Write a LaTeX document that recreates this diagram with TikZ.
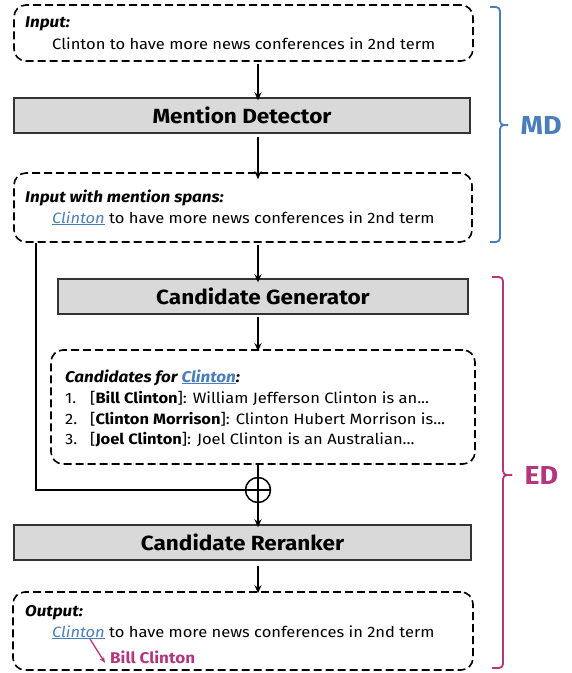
\documentclass[tikz,border=0pt]{standalone}
\usepackage{fontspec}
\setmainfont{Fira Sans}[FakeStretch=1.1]
\usepackage{xcolor}
\usetikzlibrary{arrows.meta,positioning}
\definecolor{mdblue}{HTML}{4A7EBB}
\definecolor{edpink}{HTML}{B3367F}
\definecolor{stagegray}{HTML}{D9D9D9}
\newcommand{\ment}{{\color{mdblue}\itshape\underline{Clinton}}}
\newcommand{\sent}{to have more news conferences in 2nd term}

\begin{document}
\begin{tikzpicture}[x=1pt,y=-1pt,font=\fontsize{15}{18}\selectfont,
  iobox/.style={draw,line width=1.6pt,dash pattern=on 8pt off 4pt,rounded corners=12pt,inner sep=0pt},
  stage/.style={draw=black!80,fill=stagegray,line width=1.4pt,inner sep=0pt,font=\fontsize{20.5}{24}\selectfont\bfseries},
  flow/.style={-{Stealth[length=8pt,width=7pt]},line width=2pt},
  txt/.style={anchor=base west,inner sep=0pt},
  head/.style={txt,font=\fontsize{15.5}{18}\selectfont\bfseries\itshape},
  bracket/.style={line width=1.8pt,rounded corners=4pt},
  tag/.style={anchor=west,font=\fontsize{26}{30}\selectfont\bfseries}]
\useasboundingbox (0,0) rectangle (572,673);
\coordinate (axis) at (258,0);

% mention detection
\node[iobox,minimum width=459pt,minimum height=56pt] (input) at (243.5,33) {};
\node[head] (inlbl) at (25,27) {Input:};
\node[txt] (intxt) at (52,49) {Clinton \sent};
\node[stage,minimum width=456pt,minimum height=35pt] (det) at (242,115.5) {Mention Detector};
\node[iobox,minimum width=458pt,minimum height=69pt] (spans) at (243,207.5) {};
\node[head] (spanlbl) at (25,202) {Input with mention spans:};
\node[txt] (spantxt) at (52,223) {\ment{} \sent};

% entity disambiguation
\node[stage,minimum width=410pt,minimum height=35pt] (gen) at (263,296.5) {Candidate Generator};
\node[iobox,minimum width=424pt,minimum height=114pt] (cands) at (263,407) {};
\node[head] (candlbl) at (65,382) {Candidates for \ment:};
\node[txt] (n1) at (65,403) {1.};
\node[txt] (n2) at (65,424) {2.};
\node[txt] (n3) at (65,444) {3.};
\node[txt] (c1) at (90,403) {[\textbf{Bill Clinton}]: William Jefferson Clinton is an...};
\node[txt] (c2) at (90,424) {[\textbf{Clinton Morrison}]: Clinton Hubert Morrison is...};
\node[txt] (c3) at (90,444) {[\textbf{Joel Clinton}]: Joel Clinton is an Australian...};
\node[circle,draw,line width=1.5pt,minimum size=25pt,inner sep=0pt] (plus) at (258,490) {};
\node[stage,minimum width=457pt,minimum height=35pt] (rerank) at (242.5,542.5) {Candidate Reranker};
\node[iobox,minimum width=460pt,minimum height=78pt] (output) at (243,631) {};
\node[head] (outlbl) at (25,616) {Output:};
\node[txt] (outtxt) at (52,637) {\ment{} \sent};
\node[txt,text=edpink,font=\fontsize{15.5}{18}\selectfont\bfseries] (bill) at (110,663) {Bill Clinton};
\coordinate (tail) at (90,639);

% flow
\draw[flow] (input.south -| axis) ++(0,2) -- ([yshift=-3pt]det.north -| axis);
\draw[flow] (det.south -| axis) ++(0,3) -- ([yshift=-7pt]spans.north -| axis);
\draw[flow] (spans.south -| axis) ++(0,2) -- ([yshift=-4pt]gen.north -| axis);
\draw[flow] (gen.south -| axis) ++(0,2) -- ([yshift=-2pt]cands.north -| axis);
\draw[line width=2pt] (spans.south -| 36,0) |- (plus.west);
\draw[line width=1.5pt] (plus.west) -- (plus.east);
\draw[line width=2pt] (cands.south -| axis) -- (plus.north);
\draw[flow] (plus.north) -- ([yshift=-3pt]rerank.north -| axis);
\draw[flow] (rerank.south -| axis) ++(0,5) -- ([yshift=-2pt]output.north -| axis);
\draw[edpink,line width=1.3pt,-{Stealth[length=6pt,width=5pt]}] (tail) -- ([xshift=-5pt,yshift=-6pt]bill.west);

% brackets
\draw[bracket,mdblue] (490,7) -- (500,7) -- (500,125) -- (508,125);
\draw[bracket,mdblue] (490,242) -- (500,242) -- (500,125) -- (508,125);
\node[tag,text=mdblue] (md) at (517,125) {MD};
\draw[bracket,edpink] (492,277) -- (503,277) -- (503,475) -- (512,475);
\draw[bracket,edpink] (492,668) -- (503,668) -- (503,475) -- (512,475);
\node[tag,text=edpink] (ed) at (521,475) {ED};
\end{tikzpicture}
\end{document}
